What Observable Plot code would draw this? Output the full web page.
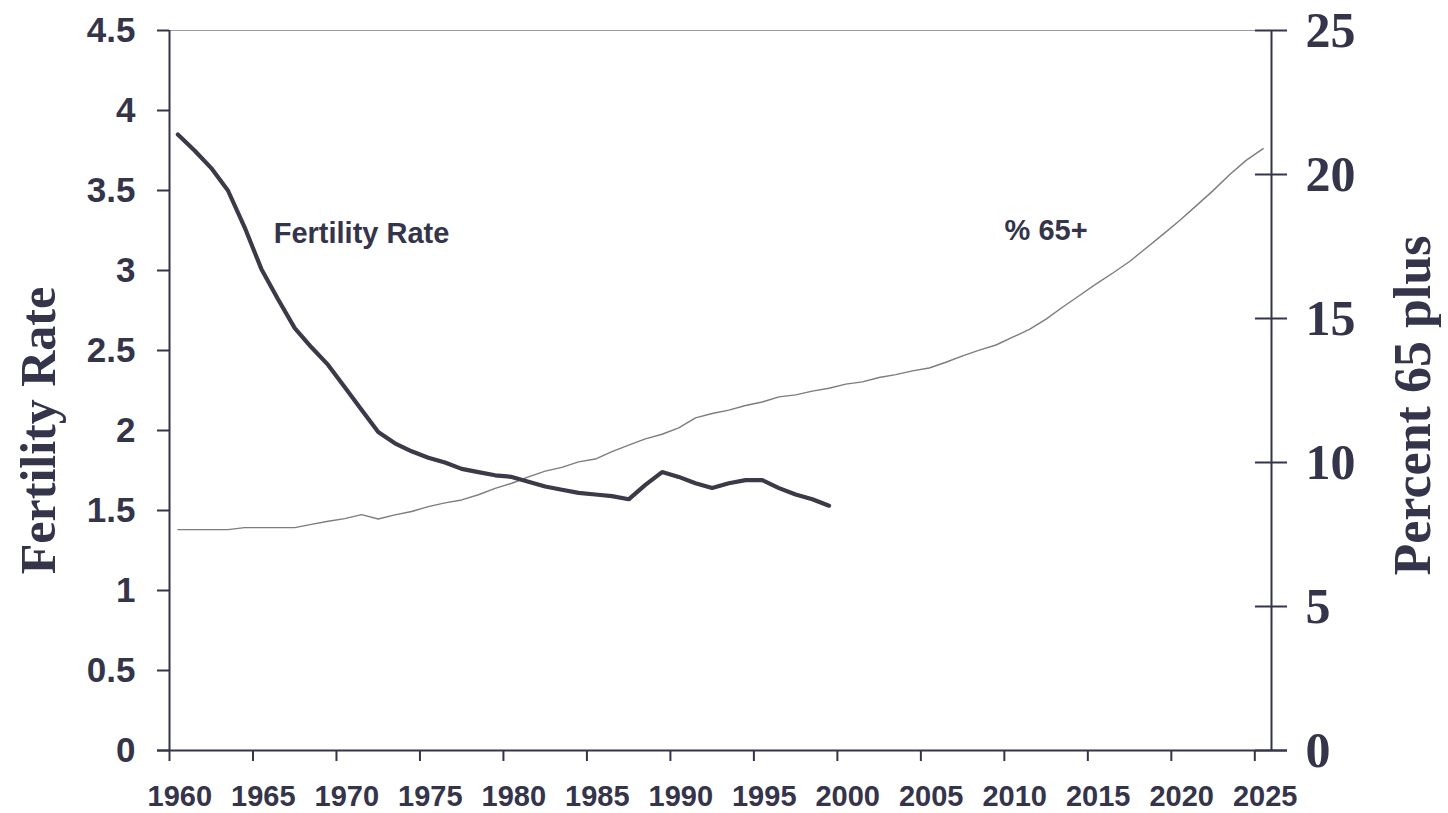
<!DOCTYPE html>
<html>
<head>
<meta charset="utf-8">
<script src="https://cdn.jsdelivr.net/npm/d3@7"></script>
<script src="https://cdn.jsdelivr.net/npm/@observablehq/plot@0.6"></script>
<style>
  html, body { margin: 0; padding: 0; background: #ffffff; }
  #chart { width: 1448px; height: 813px; }
</style>
</head>
<body>
<div id="chart"></div>
<script>
// ---- data ----
const fertYears = [1960,1961,1962,1963,1964,1965,1966,1967,1968,1969,1970,1971,1972,1973,1974,1975,1976,1977,1978,1979,1980,1981,1982,1983,1984,1985,1986,1987,1988,1989,1990,1991,1992,1993,1994,1995,1996,1997,1998,1999];
const fertility = [3.85,3.75,3.64,3.50,3.27,3.01,2.82,2.64,2.52,2.41,2.27,2.13,1.99,1.92,1.87,1.83,1.80,1.76,1.74,1.72,1.71,1.68,1.65,1.63,1.61,1.60,1.59,1.57,1.66,1.74,1.71,1.67,1.64,1.67,1.69,1.69,1.64,1.60,1.57,1.53];

const pctYears = [1960,1961,1962,1963,1964,1965,1966,1967,1968,1969,1970,1971,1972,1973,1974,1975,1976,1977,1978,1979,1980,1981,1982,1983,1984,1985,1986,1987,1988,1989,1990,1991,1992,1993,1994,1995,1996,1997,1998,1999,2000,2001,2002,2003,2004,2005,2006,2007,2008,2009,2010,2011,2012,2013,2014,2015,2016,2017,2018,2019,2020,2021,2022,2023,2024,2025];
const pct65 = [7.67,7.67,7.67,7.67,7.74,7.74,7.74,7.74,7.85,7.96,8.05,8.19,8.04,8.18,8.30,8.47,8.60,8.70,8.88,9.10,9.28,9.50,9.70,9.83,10.02,10.12,10.38,10.60,10.82,10.98,11.20,11.55,11.70,11.82,11.98,12.10,12.28,12.35,12.48,12.58,12.72,12.80,12.95,13.05,13.18,13.28,13.48,13.70,13.90,14.08,14.35,14.62,14.98,15.40,15.80,16.20,16.58,16.98,17.45,17.92,18.40,18.92,19.44,20.00,20.50,20.90];

const xTicks = [1960,1965,1970,1975,1980,1985,1990,1995,2000,2005,2010,2015,2020,2025];
const leftTicks = [0,0.5,1,1.5,2,2.5,3,3.5,4,4.5];
const rightTicks = [0,5,10,15,20,25];

const leftTitle = "Fertility Rate";
const rightTitle = "Percent 65 plus";
const seriesLabels = [
  {text: "Fertility Rate", year: 1971.5, value: 3.23, axis: "left"},
  {text: "% 65+", year: 2012.5, value: 18.05, axis: "right"}
];

// ---- build ----
const k = 4.5 / 25; // right axis -> left axis scaling
const fertData = fertYears.map((y, i) => ({year: y, value: fertility[i]}));
const pctData = pctYears.map((y, i) => ({year: y, value: pct65[i]}));

const ink = "#34344a";
const sans = "'Liberation Sans', Arial, Helvetica, sans-serif";
const serif = "'Liberation Serif', 'Times New Roman', serif";

const chart = Plot.plot({
  width: 1448,
  height: 813,
  marginTop: 30,
  marginBottom: 63,
  marginLeft: 169,
  marginRight: 177,
  x: {domain: [1960, 2026], axis: null},
  y: {domain: [0, 4.5], axis: null},
  style: {background: "#ffffff", fontFamily: sans, overflow: "visible"},
  marks: [
    // top gridline
    Plot.ruleY([4.5], {stroke: "#9a9aa2", strokeWidth: 1.2}),
    // axis lines
    Plot.ruleX([1960], {stroke: ink, strokeWidth: 2}),
    Plot.ruleX([2026], {stroke: ink, strokeWidth: 2}),
    Plot.ruleY([0], {stroke: ink, strokeWidth: 2, insetLeft: -12, insetRight: -16}),
    // left ticks
    Plot.ruleY(leftTicks, {y: d => d, x1: 1960, x2: 1960, insetLeft: -12, stroke: ink, strokeWidth: 2}),
    // right ticks (crossing)
    Plot.ruleY(rightTicks, {y: d => d * k, x1: 2026, x2: 2026, insetLeft: -16, insetRight: -16, stroke: ink, strokeWidth: 2}),
    // x ticks
    Plot.ruleX(xTicks, {x: d => d, y1: 0, y2: 0, insetBottom: -11, stroke: ink, strokeWidth: 2}),
    // left tick labels
    Plot.text(leftTicks, {x: 1960, y: d => d, text: d => String(d), textAnchor: "end", dx: -34,
      fontSize: 35, fontWeight: "bold", fill: ink, fontFamily: sans}),
    // right tick labels
    Plot.text(rightTicks, {x: 2026, y: d => d * k, text: d => String(d), textAnchor: "start", dx: 34,
      fontSize: 50, fontWeight: "bold", fill: ink, fontFamily: serif}),
    // x tick labels
    Plot.text(xTicks, {x: d => d + 0.5, y: 0, dx: 2, dy: 46, text: d => String(d),
      fontSize: 29, fontWeight: "bold", fill: ink, fontFamily: sans}),
    // series lines
    Plot.line(pctData, {x: d => d.year + 0.5, y: d => d.value * k, stroke: "#7c7c82", strokeWidth: 1.4}),
    Plot.line(fertData, {x: d => d.year + 0.5, y: "value", stroke: "#3a3a48", strokeWidth: 4.2, strokeLinejoin: "miter"}),
    // series labels
    Plot.text(seriesLabels, {x: "year", y: d => d.axis === "right" ? d.value * k : d.value, text: "text",
      fontSize: 29, fontWeight: "bold", fill: ink, fontFamily: sans}),
    // axis titles
    Plot.text([leftTitle], {x: 1960, y: 2.0, dx: -131, text: d => d, rotate: -90,
      fontSize: 50, fontWeight: "bold", fill: ink, fontFamily: serif}),
    Plot.text([rightTitle], {x: 2026, y: 2.156, dx: 142, text: d => d, rotate: -90,
      fontSize: 52, fontWeight: "bold", fill: ink, fontFamily: serif})
  ]
});
document.getElementById("chart").appendChild(chart);
</script>
</body>
</html>
